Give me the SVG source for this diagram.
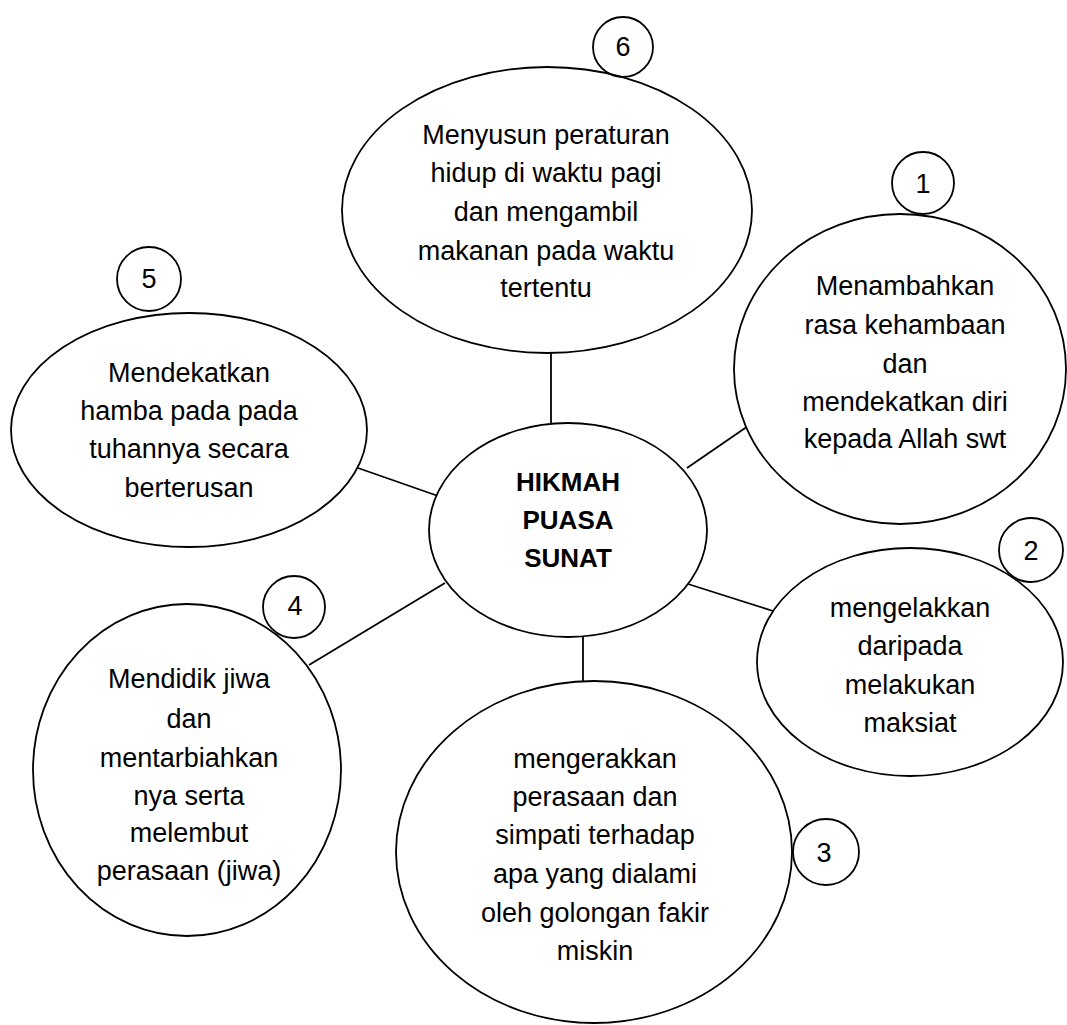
<svg xmlns="http://www.w3.org/2000/svg" width="1067" height="1025" viewBox="0 0 1067 1025">
<style>
.shape{fill:#ffffff;stroke:#000000;stroke-width:1.8}
.badge{fill:none;stroke:#000000;stroke-width:1.8}
.conn{stroke:#000000;stroke-width:1.8;fill:none}
text{font-family:"Liberation Sans",Arial,sans-serif;font-size:27px;fill:#000000;text-anchor:middle}
.b{font-weight:bold;font-size:26px}
</style>
<rect width="1067" height="1025" fill="#ffffff"/>
<g id="connectors">
<line class="conn" x1="551" y1="352" x2="551" y2="424"/>
<line class="conn" x1="687" y1="468" x2="751" y2="424"/>
<line class="conn" x1="358" y1="468" x2="441" y2="497"/>
<line class="conn" x1="445" y1="583" x2="309" y2="665"/>
<line class="conn" x1="688" y1="584" x2="773" y2="611"/>
<line class="conn" x1="583" y1="637" x2="583" y2="682"/>
</g>
<g id="center">
<ellipse class="shape" cx="568" cy="530" rx="139" ry="107"/>
<text class="b" x="568" y="491">HIKMAH</text>
<text class="b" x="568" y="529">PUASA</text>
<text class="b" x="568" y="567">SUNAT</text>
</g>
<g id="node6">
<ellipse class="shape" cx="547" cy="210" rx="205" ry="143"/>
<text x="546" y="144">Menyusun peraturan</text>
<text x="546" y="182">hidup di waktu pagi</text>
<text x="546" y="221">dan mengambil</text>
<text x="546" y="260">makanan pada waktu</text>
<text x="546" y="297">tertentu</text>
<circle class="badge" cx="623" cy="47" r="30"/>
<text x="623" y="56">6</text>
</g>
<g id="node1">
<ellipse class="shape" cx="900" cy="369" rx="166" ry="155"/>
<text x="905" y="295">Menambahkan</text>
<text x="905" y="334">rasa kehambaan</text>
<text x="905" y="373">dan</text>
<text x="905" y="411">mendekatkan diri</text>
<text x="905" y="448">kepada Allah swt</text>
<circle class="badge" cx="923" cy="183" r="31"/>
<text x="923" y="193">1</text>
</g>
<g id="node5">
<ellipse class="shape" cx="189" cy="430" rx="178" ry="117"/>
<text x="189" y="382">Mendekatkan</text>
<text x="189" y="420">hamba pada pada</text>
<text x="189" y="458">tuhannya secara</text>
<text x="189" y="497">berterusan</text>
<circle class="badge" cx="149" cy="279" r="32"/>
<text x="149" y="288">5</text>
</g>
<g id="node2">
<ellipse class="shape" cx="910" cy="662" rx="153" ry="114"/>
<text x="910" y="617">mengelakkan</text>
<text x="910" y="655">daripada</text>
<text x="910" y="694">melakukan</text>
<text x="910" y="732">maksiat</text>
<circle class="badge" cx="1031" cy="550" r="32"/>
<text x="1031" y="560">2</text>
</g>
<g id="node4">
<ellipse class="shape" cx="187" cy="770" rx="154" ry="166"/>
<text x="189" y="688">Mendidik jiwa</text>
<text x="189" y="728">dan</text>
<text x="189" y="767">mentarbiahkan</text>
<text x="189" y="805">nya serta</text>
<text x="189" y="842">melembut</text>
<text x="189" y="880">perasaan (jiwa)</text>
<circle class="badge" cx="294" cy="607" r="31"/>
<text x="295" y="615">4</text>
</g>
<g id="node3">
<ellipse class="shape" cx="594" cy="852" rx="198" ry="171"/>
<text x="595" y="768">mengerakkan</text>
<text x="595" y="806">perasaan dan</text>
<text x="595" y="844">simpati terhadap</text>
<text x="595" y="883">apa yang dialami</text>
<text x="595" y="922">oleh golongan fakir</text>
<text x="595" y="960">miskin</text>
<circle class="badge" cx="826" cy="852" r="33"/>
<text x="824" y="862">3</text>
</g>
</svg>
